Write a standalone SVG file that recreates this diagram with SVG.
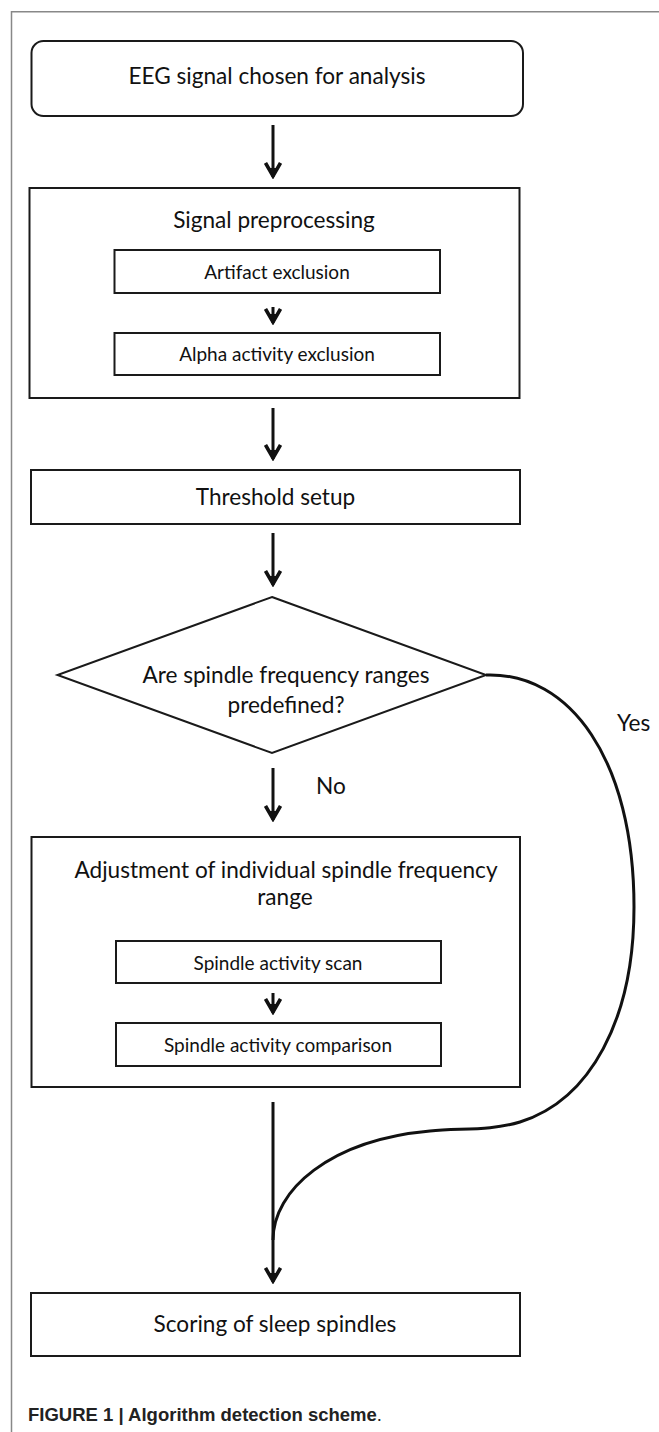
<svg xmlns="http://www.w3.org/2000/svg" width="659" height="1432" viewBox="0 0 659 1432">
<style>
.box{fill:none;stroke:#1a1a1a;stroke-width:2}
.t{font-family:Lato,"Open Sans",sans-serif;fill:#111;text-anchor:middle}
.big{font-size:22.6px}
.small{font-size:19px}
.conn{fill:none;stroke:#111;stroke-width:3}
.frame{fill:none;stroke:#888;stroke-width:1.5}
</style>
<defs>
<marker id="ah" markerUnits="userSpaceOnUse" viewBox="0 0 18 18" refX="16" refY="9" markerWidth="18" markerHeight="18" orient="auto">
<path d="M2,1.5 L15,9 L2,16.5" fill="none" stroke="#111" stroke-width="3.6"/>
<path d="M7,5 L16,9 L7,13 Z" fill="#111"/>
</marker>
</defs>
<rect width="659" height="1432" fill="#fff"/>
<path class="frame" d="M11.5,1432 V11.7 H659"/>

<g id="n1">
<rect class="box" x="31.5" y="41" width="491.5" height="75" rx="12"/>
<text class="t big" x="277" y="84">EEG signal chosen for analysis</text>
</g>
<g id="n2">
<rect class="box" x="29.5" y="188" width="490" height="210"/>
<text class="t big" x="274" y="228">Signal preprocessing</text>
</g>
<g id="n2a">
<rect class="box" x="114.5" y="250" width="325.5" height="43"/>
<text class="t small" x="277" y="278.5">Artifact exclusion</text>
</g>
<g id="n2b">
<rect class="box" x="114.5" y="333" width="325.5" height="42"/>
<text class="t small" x="277" y="361">Alpha activity exclusion</text>
</g>
<g id="n3">
<rect class="box" x="31" y="470" width="489" height="54"/>
<text class="t big" x="275.5" y="505">Threshold setup</text>
</g>
<g id="n4">
<polygon class="box" points="272,597 486,675 272,753 57.5,675"/>
<text class="t big" x="286" y="683">Are spindle frequency ranges</text>
<text class="t big" x="286" y="713">predefined?</text>
</g>
<g id="n5">
<rect class="box" x="31.5" y="837" width="488.5" height="250"/>
<text class="t big" x="286" y="878">Adjustment of individual spindle frequency</text>
<text class="t big" x="285" y="905">range</text>
</g>
<g id="n5a">
<rect class="box" x="116" y="941" width="325" height="42"/>
<text class="t small" x="278" y="970">Spindle activity scan</text>
</g>
<g id="n5b">
<rect class="box" x="116" y="1023" width="325" height="43"/>
<text class="t small" x="278" y="1052">Spindle activity comparison</text>
</g>
<g id="n6">
<rect class="box" x="31" y="1293" width="489" height="63"/>
<text class="t big" x="275" y="1332">Scoring of sleep spindles</text>
</g>

<g id="connectors">
<line class="conn" x1="273" y1="125" x2="273" y2="177" marker-end="url(#ah)"/>
<line class="conn" x1="273" y1="307" x2="273" y2="323" marker-end="url(#ah)"/>
<line class="conn" x1="273" y1="408" x2="273" y2="459" marker-end="url(#ah)"/>
<line class="conn" x1="273" y1="533" x2="273" y2="585" marker-end="url(#ah)"/>
<line class="conn" x1="273" y1="768" x2="273" y2="820" marker-end="url(#ah)"/>
<line class="conn" x1="273" y1="993" x2="273" y2="1013" marker-end="url(#ah)"/>
<line class="conn" x1="273" y1="1102" x2="273" y2="1282" marker-end="url(#ah)"/>
<path class="conn" d="M486,675 C570,672 634,760 634,907 C634,1020 590,1100 520,1122 C490,1131 460,1128 430,1131 C330,1140 273,1190 273,1240"/>
<text class="t big" x="316" y="794" style="text-anchor:start">No</text>
<text class="t big" x="617" y="731" style="text-anchor:start">Yes</text>
</g>

<text x="28" y="1421" font-family="'Liberation Sans',Arial,sans-serif" font-size="18" font-weight="bold" fill="#222" textLength="354" lengthAdjust="spacingAndGlyphs">FIGURE 1 | Algorithm detection scheme<tspan font-weight="normal">.</tspan></text>
</svg>
